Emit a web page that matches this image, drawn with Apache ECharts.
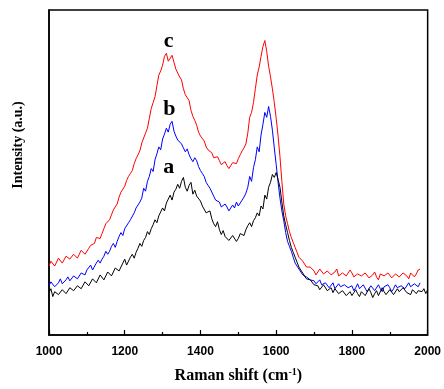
<!DOCTYPE html>
<html><head><meta charset="utf-8">
<script src="https://cdn.jsdelivr.net/npm/echarts@6/dist/echarts.min.js"></script>
<style>html,body{margin:0;padding:0;background:#fff}#c{width:444px;height:389px}</style>
</head><body><div id="c"></div>
<script>
var xStart = 1000, xStep = 5;
var seriesA = [43,47,39,44,46,41,40,46,47,42,43,48,49,45,44,50,52,47,48,54,56,
 50,52,57,59,53,55,61,62,56,58,64,66,60,62,68,70,65,67,73,77,
 71,73,79,82,78,84,88,93,90,96,99,105,102,108,112,117,114,121,125,129,
 126,134,138,142,137,145,148,153,149,156,160,150,146,152,155,143,147,141,139,136,
 131,129,124,122,126,118,113,110,115,107,102,106,100,99,96,94,101,100,95,98,
 103,105,101,107,111,114,110,116,119,124,121,131,128,142,138,150,155,163,160,165,
 158,150,135,121,112,104,96,89,84,79,74,69,66,64,60,57,58,56,54,51,
 53,50,46,47,51,50,45,44,48,43,47,46,42,41,45,46,40,42,44,40,
 43,46,42,39,44,45,40,41,47,43,38,42,45,40,42,48,44,41,43,46,
 44,41,42,47,44,42,48,46,43,44,41,46,47,42,45,43,44,47,42,46];
var seriesB = [50,54,55,49,48,53,57,52,51,56,59,55,54,60,62,57,57,63,65,61,66,
 68,71,66,67,73,76,73,77,80,85,82,85,90,93,89,95,100,104,101,108,
 110,114,117,119,124,129,127,135,139,149,146,156,161,169,166,178,184,191,188,199,
 204,210,206,214,217,207,202,198,200,194,190,186,189,183,179,176,180,177,171,167,
 164,161,155,152,149,147,141,137,139,135,130,128,133,130,126,127,132,129,135,131,
 134,137,140,144,150,161,156,170,178,191,186,203,214,226,221,232,222,208,190,173,
 155,139,126,116,104,95,90,85,79,73,70,68,64,61,60,59,57,56,58,55,
 52,54,56,51,49,53,54,48,50,53,47,46,52,49,47,51,53,48,47,50,
 45,48,52,47,46,51,49,44,45,50,48,45,46,51,47,44,49,47,51,48,
 44,47,51,48,46,50,52,47,48,53,49,47,52,54,49,53];
var seriesC = [70,75,76,70,71,78,79,73,74,80,81,77,76,82,83,78,80,86,85,82,84,
 88,91,90,93,99,101,98,103,108,113,111,117,122,127,126,133,140,145,143,151,
 157,161,164,167,174,179,183,187,195,200,205,210,220,230,236,242,253,264,268,274,
 283,286,278,279,284,277,270,266,262,259,250,244,241,238,228,222,218,213,206,202,
 200,197,191,188,186,185,180,178,181,177,173,172,176,172,169,170,175,177,174,179,
 183,187,190,194,205,221,226,236,250,264,272,283,293,299,288,273,262,250,236,220,
 202,181,156,133,121,113,105,99,94,89,84,79,77,75,72,69,70,69,67,65,
 61,63,67,68,62,60,65,66,61,59,64,67,60,58,63,65,60,61,66,63,
 59,58,62,64,60,59,63,65,58,57,61,64,59,56,62,64,60,58,63,62,
 58,57,62,64,59,58,63,65,60,57,63,65,59,62,66,67];
var xTicks = [1000, 1200, 1400, 1600, 1800, 2000];
var labels = [{t:'a', x:1316, y:170}, {t:'b', x:1318, y:229}, {t:'c', x:1316, y:298}];

function pairs(arr){ return arr.map(function(v,i){ return [xStart + i*xStep, v]; }); }

var chart = echarts.init(document.getElementById('c'));
var serif = '"Liberation Serif","Times New Roman",serif';
chart.setOption({
  animation:false,
  backgroundColor:'#fff',
  grid:{left:49, right:9, top:10, bottom:49, show:true, borderColor:'#000', borderWidth:1.5, backgroundColor:'transparent'},
  xAxis:{
    type:'value', min:xTicks[0], max:xTicks[xTicks.length-1], interval:xTicks[1]-xTicks[0],
    axisLine:{show:true, lineStyle:{color:'#000', width:1.5}},
    axisTick:{show:true, inside:true, length:5, lineStyle:{color:'#000', width:1.2}},
    minorTick:{show:true, splitNumber:2, length:3, lineStyle:{color:'#000', width:1.2}},
    splitLine:{show:false},
    axisLabel:{color:'#000', fontFamily:'"Liberation Sans",Arial,sans-serif', fontWeight:'bold', fontSize:12, margin:11,
      formatter:function(v){ return String(v); }},
    name:'Raman shift (cm{s|-1})', nameLocation:'middle', nameGap:32,
    nameTextStyle:{color:'#000', fontFamily:serif, fontWeight:'bold', fontSize:16,
      rich:{s:{fontSize:10, fontFamily:serif, fontWeight:'bold', verticalAlign:'top', color:'#000', padding:[0,0,8,0]}}}
  },
  yAxis:{
    type:'value', min:0, max:330,
    axisLine:{show:true, lineStyle:{color:'#000', width:1.5}}, axisTick:{show:false}, axisLabel:{show:false}, splitLine:{show:false}
  },
  series:[
    {type:'line', data:pairs(seriesA), symbol:'none', lineStyle:{color:'#000', width:1}, z:3},
    {type:'line', data:pairs(seriesB), symbol:'none', lineStyle:{color:'#0000ff', width:1}, z:2},
    {type:'line', data:pairs(seriesC), symbol:'none', lineStyle:{color:'#ff0000', width:1}, z:1}
  ]
});
var g = labels.map(function(l){
  var p = chart.convertToPixel({xAxisIndex:0, yAxisIndex:0}, [l.x, l.y]);
  return {type:'text', x:p[0], y:p[1], z:10, style:{text:l.t, fill:'#000', font:'bold 22px '+serif, textAlign:'center', textVerticalAlign:'middle'}};
});
g.push({type:'text', x:18, y:145, rotation:Math.PI/2, z:10,
  style:{text:'Intensity (a.u.)', fill:'#000', font:'bold 14px '+serif, textAlign:'center', textVerticalAlign:'middle'}});
chart.setOption({graphic:g});
</script></body></html>
